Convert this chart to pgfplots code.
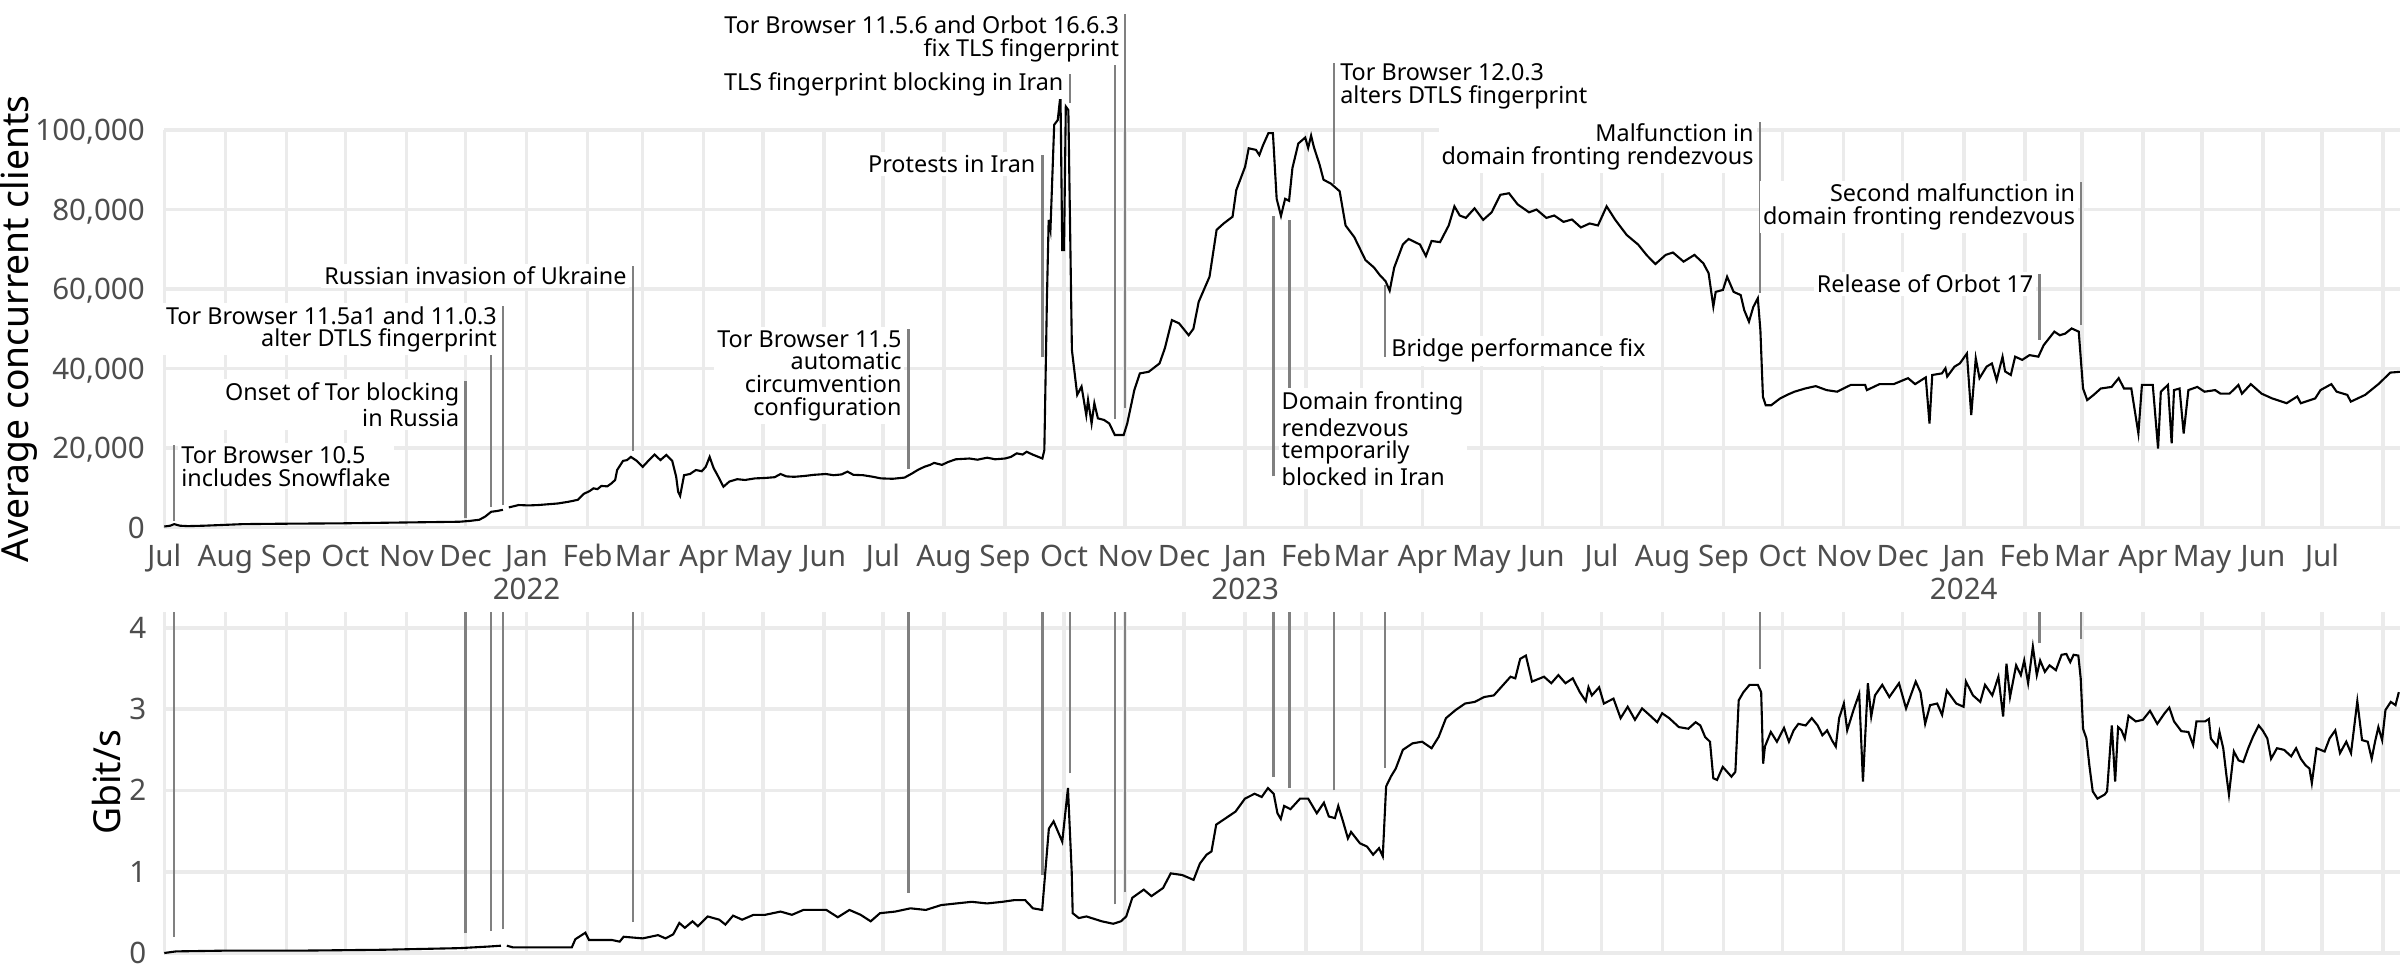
\documentclass[border=0pt]{standalone}
\usepackage{pgfplots}
\pgfplotsset{compat=1.18}
\usepackage{pgfplotstable}
\usepackage{fontspec}
\setmainfont{Noto Sans}
\definecolor{gridgrey}{HTML}{EBEBEB}
\definecolor{tickgrey}{HTML}{4D4D4D}
\definecolor{segcol}{HTML}{808080}

\pgfplotstableread{
day clients
0 300
3 500
5 900
8 500
12 400
20 500
30 700
40 900
50 950
60 1000
75 1050
90 1100
105 1200
120 1300
135 1400
150 1500
155 1700
160 2000
163 2800
166 4000
169 4200
172 4500
173 nan
175 5100
180 5700
185 5600
190 5700
195 5900
200 6100
205 6500
210 7000
213 8500
216 9200
218 9900
220 9700
222 10500
225 10400
227 11100
229 12000
230 14500
233 16800
235 17000
237 17800
240 16800
243 15300
246 16900
249 18400
252 17000
255 18300
258 16800
260 12800
261 9000
262 8000
264 13200
267 13500
270 14500
273 14200
275 15300
277 17800
279 15000
281 13200
284 10300
287 11600
291 12200
295 12000
300 12400
305 12500
310 12700
313 13500
316 12900
320 12800
325 13000
330 13300
336 13500
340 13200
344 13400
347 14100
350 13300
355 13200
360 12800
364 12400
370 12300
376 12600
380 13700
383 14600
386 15300
389 15800
391 16300
395 15800
398 16500
402 17200
409 17400
413 17100
418 17600
422 17200
427 17400
430 17800
433 18700
436 18400
438 19100
441 18400
443 18000
446 17400
447 19500
448.3 57200
449.2 77400
450.1 74900
452 101300
453.8 102500
455.2 108800
456.1 69800
457 69800
457.9 105900
459.2 105000
461 44700
463.7 33400
465.9 35500
468.3 28300
469.2 32100
471 26200
472.4 31300
474.2 27500
477.3 27100
480 26200
482.8 23300
487.3 23300
489.1 26200
492.7 34600
495.5 38800
500 39200
505.5 41300
508.2 45100
511.8 52200
515.4 51400
518.2 49700
520.3 48400
522.7 50000
525.4 56800
530.9 63100
534.5 74900
538.1 76500
542.6 78200
544.5 84900
549 90800
550.8 95400
554.5 95000
556.2 93700
558.1 96200
560.8 99200
563.1 99200
565 82700
567.2 78400
569.3 82700
571.3 82200
573 90400
576 96600
579.5 98100
581 95500
582.5 98600
583.9 95700
586.8 91300
588.8 87500
592.6 86500
597 84600
600 76000
604.4 73100
610.1 67300
614.5 65400
617.4 63500
620.3 62000
622.4 59600
624.7 65400
629.1 71200
632 72600
637.8 71200
640.8 68300
643.7 72100
648 71800
652.4 76000
655.3 80800
658 78500
661.1 77900
665.5 80300
669.9 77400
674.2 79300
678.6 83700
683 84100
687.4 81300
693.2 79300
697 80000
702 77900
706 78500
710.7 76900
715 77500
719.5 75500
724 76500
728.2 76000
732.6 80800
737 77400
742.8 73600
748.6 71200
753 68500
757.4 66300
762.6 68600
766.3 69200
771.7 66900
777.2 68600
781.7 66500
784.4 64000
786.8 55600
788 59300
791.7 59800
793.8 63100
797.1 59300
800.7 58500
802.5 54700
804.9 51800
807.1 55500
809.4 57700
810.7 49700
812 32900
813.4 30800
816.2 30800
820.7 32500
824.3 33400
828 34200
833.4 35000
838.8 35600
844.3 34600
849.7 34200
856.6 35900
863.9 35900
864.8 34600
871.2 36100
878.4 36100
885.7 37600
889.3 36100
894.7 37800
896.6 26200
898 38400
902.9 38800
904.7 40100
905.6 38000
909.3 40500
912 41300
915.6 43800
917.8 28300
920.1 42600
922 37600
925.6 40500
928.3 41300
930.7 37100
933.7 43000
935 39300
937.9 38400
940.1 43000
943.7 42200
947.4 43400
951.9 43000
954.6 45900
960 49300
962.8 48400
965.5 48800
968.8 50100
972.4 49300
974.6 35000
976.7 32100
980 33400
983.6 35000
989.1 35400
992.7 37600
995.4 35000
999.1 35000
1002.7 23700
1004.5 35900
1010 35900
1012.7 19900
1014.1 34200
1017.7 35900
1019.6 21200
1020.8 34600
1023.6 35000
1025.7 23700
1028.1 34600
1032.6 35400
1036.3 34200
1041.7 34600
1044.4 33700
1049 33700
1053.5 35900
1055.3 33700
1059.8 36100
1065.3 33700
1070.7 32500
1078 31300
1083.4 33000
1085.2 31300
1092.5 32500
1095.2 34600
1100.7 36100
1103.4 34200
1108.8 33400
1110.6 31700
1117.9 33400
1125.1 36300
1130.6 39000
1135.6 39200
}\clients

\pgfplotstableread{
day gbit
0 0.00
6 0.02
33 0.03
72 0.03
111 0.04
150 0.06
165 0.08
171 0.09
172.5 nan
174 0.09
177 0.07
188.6 0.07
207 0.07
208.8 0.17
213.9 0.25
215.7 0.16
227.4 0.16
231.3 0.14
233.3 0.20
243 0.18
250.8 0.22
254.6 0.18
258.5 0.23
261.6 0.37
264.4 0.31
268.3 0.39
271 0.33
276 0.45
281.9 0.41
285 0.35
288.9 0.46
293.5 0.41
299.3 0.47
305.2 0.47
313 0.51
318.8 0.47
324.6 0.53
330.4 0.53
336.3 0.53
342.1 0.44
348 0.53
353.7 0.47
358.8 0.39
363.5 0.49
371.3 0.51
379 0.55
386.8 0.53
394.6 0.59
402.3 0.61
410.1 0.63
417.9 0.61
425.7 0.63
431.5 0.65
437.3 0.65
441.2 0.55
445.9 0.53
449.3 1.53
451.7 1.62
456.1 1.37
459 2.03
460.9 1.00
461.4 0.49
464.5 0.43
468.4 0.45
476.2 0.39
482 0.36
485.9 0.39
488.6 0.45
491.7 0.68
497.5 0.78
501.4 0.70
507.3 0.80
511.2 0.98
517 0.96
522.8 0.90
526 1.10
529.4 1.21
531.9 1.25
534.3 1.58
539.2 1.66
544.1 1.74
548.9 1.90
553.8 1.96
557.4 1.92
560.6 2.03
563.5 1.96
565.4 1.72
567.1 1.65
568.8 1.81
572 1.77
576.9 1.90
581 1.90
585.4 1.72
589 1.85
591.5 1.68
594.6 1.66
596.3 1.81
598.7 1.62
601.2 1.41
602.8 1.49
607.3 1.35
610.9 1.31
614 1.21
617 1.29
618.9 1.19
620.6 2.05
623 2.17
625.5 2.27
629.1 2.50
634 2.58
638.9 2.60
643.7 2.52
647.3 2.66
651 2.89
655.9 2.99
660.7 3.07
665.6 3.09
670.4 3.15
675.3 3.17
680.1 3.30
683.8 3.40
686.2 3.38
688.7 3.62
691.6 3.66
694.7 3.34
700.8 3.40
704.5 3.32
708.1 3.42
711.7 3.32
715.4 3.38
719 3.21
722 3.10
723.4 3.27
725.1 3.17
728.8 3.27
731.2 3.07
736.1 3.13
739.7 2.89
743.3 3.03
747 2.87
750.6 3.01
754.3 2.93
758.3 2.84
760.8 2.95
764.4 2.89
769.3 2.78
774.1 2.76
777.8 2.84
780.2 2.80
782.6 2.66
785.1 2.60
786.8 2.15
788.7 2.13
791.6 2.29
796 2.17
798 2.23
799.7 3.11
802.1 3.21
805.2 3.30
809.4 3.30
811.1 3.21
812.1 2.33
813 2.54
816 2.72
819.1 2.60
822.7 2.77
825.2 2.60
827.6 2.74
830 2.82
833.7 2.80
836.8 2.89
839.8 2.80
842.2 2.68
844.6 2.74
847 2.62
849 2.54
850.7 2.89
853.1 3.07
854.8 2.74
858 2.99
860.9 3.19
862.8 2.11
865.3 3.32
867 2.91
868.9 3.17
872.6 3.30
876.2 3.15
881.1 3.32
884.7 3.01
889.6 3.34
892 3.21
894.4 2.82
896.9 3.05
900.5 3.07
903 2.93
905.4 3.23
910.2 3.07
913.9 3.03
915.1 3.34
918.7 3.17
922.4 3.09
924.8 3.30
928.5 3.17
931.6 3.40
934 2.91
935.7 3.56
937.5 3.15
940.6 3.54
943 3.42
944.7 3.60
946.7 3.32
949.1 3.77
951.1 3.42
952.8 3.60
955.2 3.46
957.6 3.54
960.8 3.48
963.7 3.67
966.1 3.68
968.1 3.58
969.8 3.67
972.2 3.66
973.4 3.38
974.6 2.76
976.3 2.64
977.8 2.31
979.5 1.99
981.9 1.90
985.6 1.95
986.8 1.99
989.2 2.80
990.9 2.11
992.4 2.78
994.1 2.74
995.8 2.64
997.7 2.92
1001.4 2.85
1005 2.87
1008.6 2.98
1012.3 2.82
1016 2.95
1018.4 3.02
1020.8 2.85
1024.5 2.73
1028.1 2.72
1030.5 2.56
1032.2 2.85
1036.6 2.85
1038.5 2.88
1039.5 2.64
1042.7 2.54
1043.9 2.72
1045.8 2.52
1047.5 2.17
1048.7 1.95
1051.2 2.48
1053.6 2.37
1056 2.35
1058.5 2.52
1060.9 2.66
1063.8 2.80
1065.8 2.74
1068.2 2.64
1070.1 2.39
1073.1 2.52
1076.7 2.50
1080.3 2.42
1082.8 2.52
1085.2 2.39
1087.6 2.31
1089.6 2.27
1090.8 2.09
1093.2 2.52
1097.3 2.48
1099.8 2.64
1102.7 2.74
1105.1 2.46
1108.3 2.60
1110.7 2.46
1113.9 3.10
1116.3 2.62
1119.2 2.60
1121.2 2.39
1122.9 2.60
1124.6 2.78
1126.5 2.62
1128.2 2.99
1130.9 3.09
1133.3 3.05
1135 3.21
}\bw

\newcommand\yr[2]{\begin{tabular}[t]{@{}c@{}}#1\\#2\end{tabular}}

\tikzset{
  lblR/.style={anchor=north east, align=right, fill=white, inner sep=0.3mm, xshift=0.3mm, yshift=0.3mm, font=\fontsize{6.65}{6.46}\selectfont},
  lblL/.style={anchor=north west, align=left, fill=white, inner sep=0.3mm, xshift=-0.3mm, yshift=0.3mm, font=\fontsize{6.65}{6.46}\selectfont},
}
\pgfplotsset{
  base/.style={
    scale only axis, width=223.57mm, xmin=0, xmax=1135.6,
    axis line style={draw=none}, major tick length=0pt,
    scaled y ticks=false, scaled x ticks=false,
    xtick={0,31,62,92,123,153,184,215,243,274,304,335,365,396,427,457,488,518,549,580,608,639,669,700,730,761,792,822,853,883,914,945,974,1005,1035,1066,1096,1127},
    grid=major, major grid style={gridgrey, line width=0.35mm},
    yticklabel style={anchor=base east, inner sep=0pt, yshift=-1.05mm, font=\fontsize{8.4}{9.5}\selectfont, text=tickgrey},
    clip=false,
  },
  seg/.style={segcol, line width=0.25mm, unbounded coords=jump, forget plot},
}

\begin{document}
\begin{tikzpicture}
\useasboundingbox (0mm,0mm) rectangle (240mm,97.5mm);

% top panel
\begin{axis}[base, at={(16.43mm,44.73mm)}, anchor=south west, height=39.77mm,
  ymin=0, ymax=100000,
  ytick={0,20000,40000,60000,80000,100000},
  yticklabels={0,{20,000},{40,000},{60,000},{80,000},{100,000}},
  yticklabel style={xshift=-1.89mm},
  xticklabels={Jul,Aug,Sep,Oct,Nov,Dec,\yr{Jan}{2022},Feb,Mar,Apr,May,Jun,Jul,Aug,Sep,Oct,Nov,Dec,\yr{Jan}{2023},Feb,Mar,Apr,May,Jun,Jul,Aug,Sep,Oct,Nov,Dec,\yr{Jan}{2024},Feb,Mar,Apr,May,Jun,Jul,{}},
  xticklabel style={anchor=base, inner sep=0pt, yshift=-3.87mm, font=\fontsize{8.4}{9.5}\selectfont, text=tickgrey},
]
\addplot[seg] coordinates {
(5,1700)(5,20800)(5,nan)
(153,2500)(153,36900)(153,nan)
(166,5300)(166,55700)(166,nan)
(172,5700)(172,55700)(172,nan)
(238,19300)(238,65800)(238,nan)
(378,14700)(378,49900)(378,nan)
(446,42800)(446,93700)(446,nan)
(460,106900)(460,113960)(460,nan)
(483,27300)(483,129000)(483,nan)
(488,30200)(488,129080)(488,nan)
(563.5,12900)(563.5,78400)(563.5,nan)
(571.5,12900)(571.5,77400)(571.5,nan)
(594,86500)(594,116850)(594,nan)
(620,43000)(620,61000)(620,nan)
(810.5,59100)(810.5,101900)(810.5,nan)
(952.5,47200)(952.5,63800)(952.5,nan)
(973.5,51000)(973.5,86800)
};
\addplot[black, line width=0.6pt, unbounded coords=jump] table[x=day, y=clients] {\clients};

\node[lblL] at (axis cs:8.33,20620) {Tor Browser 10.5\\includes Snowflake};
\node[lblR] at (axis cs:150.2,36710) {Onset of Tor blocking\\in Russia};
\node[lblR] at (axis cs:169.25,55820) {Tor Browser 11.5a1 and 11.0.3\\alter DTLS fingerprint};
\node[lblR] at (axis cs:235.1,65730) {Russian invasion of Ukraine};
\node[lblR] at (axis cs:374.8,49790) {Tor Browser 11.5\\automatic\\circumvention\\configuration};
\node[lblR] at (axis cs:442.8,93790) {Protests in Iran};
\node[lblR] at (axis cs:457.0,114580) {TLS fingerprint blocking in Iran};
\node[lblR] at (axis cs:485.3,128920) {Tor Browser 11.5.6 and Orbot 16.6.3\\fix TLS fingerprint};
\node[lblL] at (axis cs:567.2,34450) {Domain fronting\\rendezvous\\temporarily\\blocked in Iran};
\node[lblL] at (axis cs:597.0,116770) {Tor Browser 12.0.3\\alters DTLS fingerprint};
\node[lblL] at (axis cs:622.9,47620) {Bridge performance fix};
\node[lblR] at (axis cs:807.6,101760) {Malfunction in\\domain fronting rendezvous};
\node[lblR] at (axis cs:970.9,86670) {Second malfunction in\\domain fronting rendezvous};
\node[lblR] at (axis cs:949.7,63790) {Release of Orbot 17};
\end{axis}

% bottom panel
\begin{axis}[base, at={(16.43mm,2.2mm)}, anchor=south west, height=34.13mm,
  ymin=0, ymax=4.2,
  ytick={0,1,2,3,4},
  yticklabels={0,1,2,3,4},
  yticklabel style={xshift=-1.74mm},
  xticklabels={},
]
\addplot[seg] coordinates {
(5,0.2)(5,4.2)(5,nan)
(153,0.25)(153,4.2)(153,nan)
(166,0.27)(166,4.2)(166,nan)
(172,0.29)(172,4.2)(172,nan)
(238,0.38)(238,4.2)(238,nan)
(378,0.74)(378,4.2)(378,nan)
(446,0.96)(446,4.2)(446,nan)
(460,2.21)(460,4.2)(460,nan)
(483,0.6)(483,4.2)(483,nan)
(488,0.75)(488,4.2)(488,nan)
(563.5,2.17)(563.5,4.2)(563.5,nan)
(571.5,2.03)(571.5,4.2)(571.5,nan)
(594,2.0)(594,4.2)(594,nan)
(620,2.28)(620,4.2)(620,nan)
(810.5,3.49)(810.5,4.2)(810.5,nan)
(952.5,3.81)(952.5,4.2)(952.5,nan)
(973.5,3.87)(973.5,4.2)
};
\addplot[black, line width=0.6pt, unbounded coords=jump] table[x=day, y=gbit] {\bw};
\end{axis}

\node[rotate=90, anchor=base, inner sep=0pt, font=\fontsize{10.6}{12}\selectfont] at (2.85mm,64.6mm) {Average concurrent clients};
\node[rotate=90, anchor=base, inner sep=0pt, font=\fontsize{10.6}{12}\selectfont] at (12.0mm,19.26mm) {Gbit/s};
\end{tikzpicture}
\end{document}
